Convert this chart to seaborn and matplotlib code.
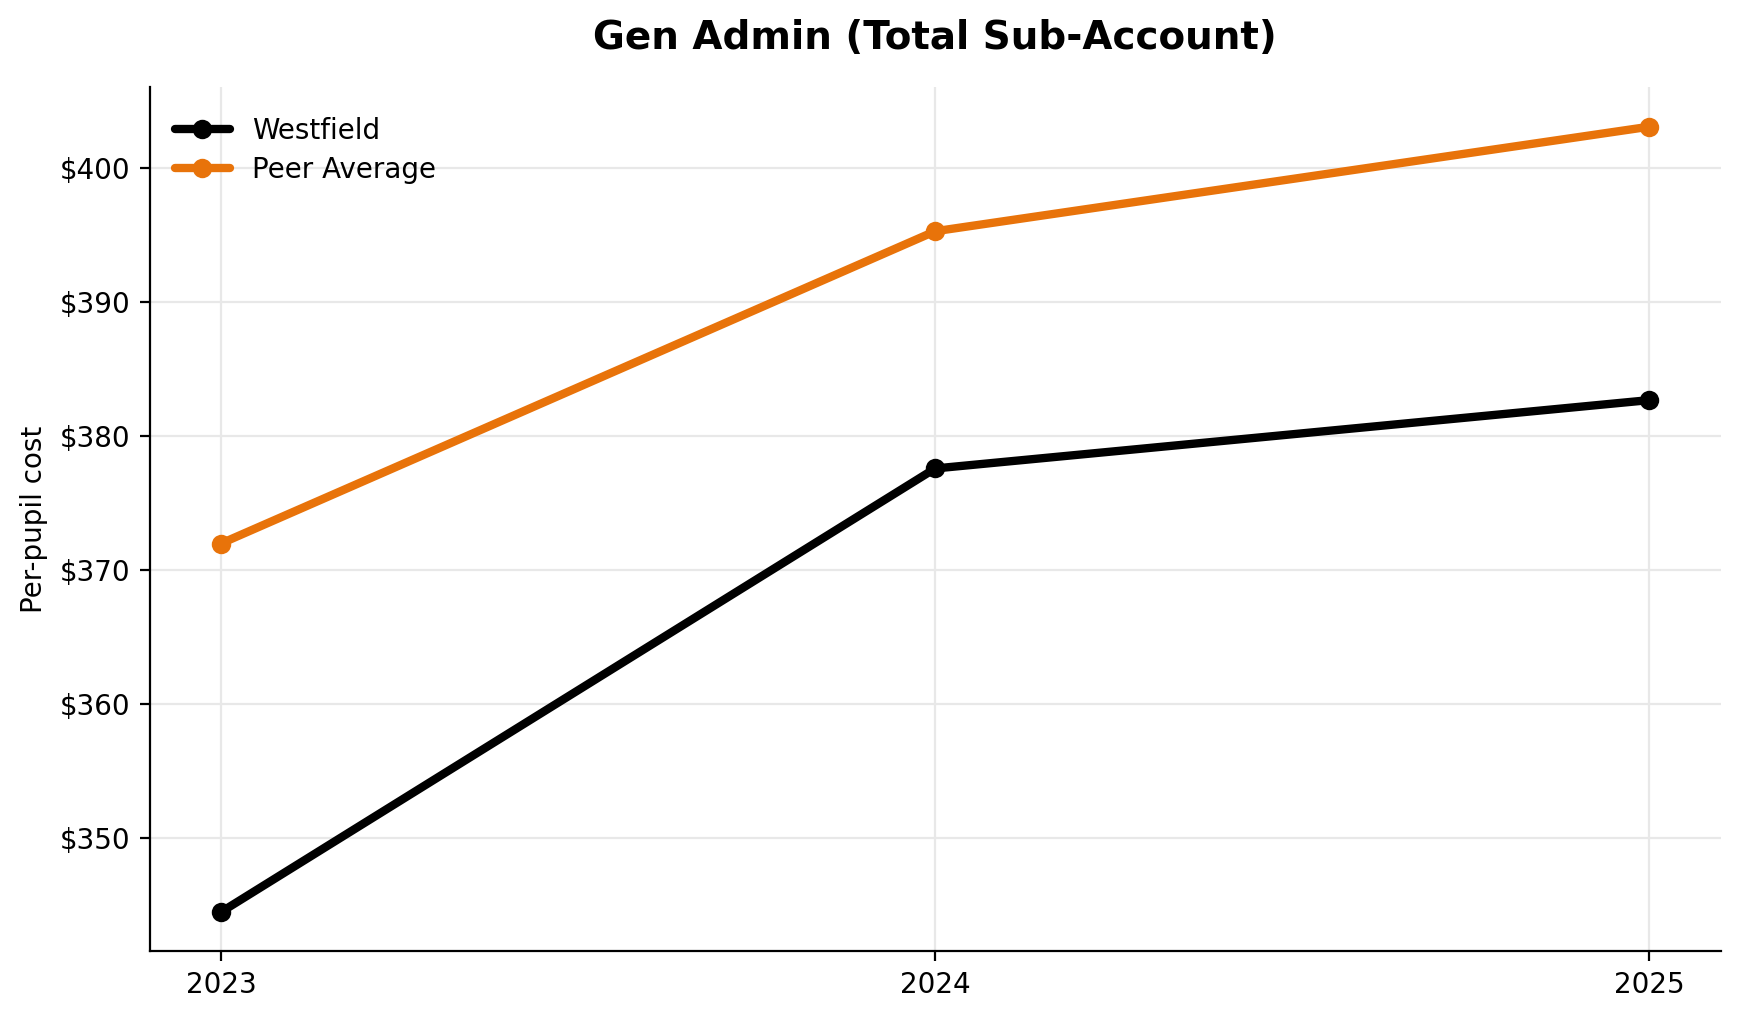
import matplotlib
matplotlib.use("Agg")
import matplotlib.pyplot as plt
import pandas as pd
import seaborn as sns
from matplotlib.ticker import StrMethodFormatter

# ============================
# DATA
# ============================
years = [2023, 2024, 2025]
westfield = [344.5, 377.6, 382.7]
peer_avg = [372.0, 395.3, 403.1]
series_names = ["Westfield", "Peer Average"]
colors = ["#000000", "#E8730A"]

df = pd.DataFrame({
    "year": years * 2,
    "cost": westfield + peer_avg,
    "series": [series_names[0]] * len(years) + [series_names[1]] * len(years),
})

# ============================
# PLOT
# ============================
sns.set_style("ticks")
plt.rcParams["font.family"] = ["DejaVu Sans"]
plt.rcParams.update({
    "text.color": "black",
    "axes.labelcolor": "black",
    "xtick.color": "black",
    "ytick.color": "black",
    "axes.edgecolor": "black",
})

fig, ax = plt.subplots(figsize=(8.695, 5.095), dpi=200)
fig.subplots_adjust(left=0.086, right=0.9895, top=0.9142, bottom=0.0664)

sns.lineplot(
    data=df, x="year", y="cost", hue="series",
    palette=dict(zip(series_names, colors)),
    marker="o", markersize=7, markeredgewidth=0,
    linewidth=3, ax=ax,
)

ax.set_xticks(years)
ax.set_xticklabels([str(y) for y in years], fontsize=10)
ax.yaxis.set_major_formatter(StrMethodFormatter("${x:,.0f}"))
ax.tick_params(axis="y", labelsize=10)
ax.grid(True, color="#e8e8e8", linewidth=0.8)
ax.set_axisbelow(True)
sns.despine(ax=ax)

ax.set_xlabel("")
ax.set_ylabel("Per-pupil cost", fontsize=10)
ax.set_title("Gen Admin (Total Sub-Account)", fontsize=14, fontweight="bold", pad=14)
ax.legend(loc="upper left", bbox_to_anchor=(0, 0.995), frameon=False,
          fontsize=10, labelspacing=0.4)

fig.savefig("out.png", dpi=200)
